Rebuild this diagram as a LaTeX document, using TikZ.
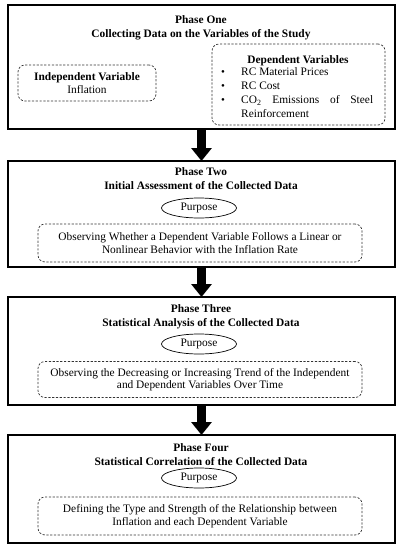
\documentclass[tikz,border=0pt]{standalone}
\usepackage{fontspec}
\setmainfont{Liberation Serif}
\usetikzlibrary{arrows.meta,shapes.geometric}
\tikzset{
  phasebox/.style={draw, line width=1.5pt, minimum width=387pt, anchor=north west, inner sep=0pt, outer sep=0pt},
  dashbox/.style={draw=black!80, line width=0.7pt, dash pattern=on 2.2pt off 1.6pt, rounded corners=7pt, inner sep=0pt, align=center},
  purp/.style={draw, ellipse, line width=0.7pt, minimum width=75pt, minimum height=20pt, inner sep=0pt},
  ttl/.style={align=center, font=\fontsize{11.4}{14}\selectfont\bfseries, inner sep=0pt},
  bigarrow/.style={line width=9pt, -{Triangle[width=20pt,length=13pt]}},
  txt/.style={inner sep=0pt, anchor=base west},
  bul/.style={inner sep=0pt, anchor=base west, font=\fontsize{11}{12}\selectfont}
}
\begin{document}
\begin{tikzpicture}[x=1pt,y=-1pt, font=\fontsize{11.4}{12.6}\selectfont]
\useasboundingbox (0,0) rectangle (402,550);
% boxes
\node[phasebox, minimum height=124pt] (p1) at (8,5) {};
\node[phasebox, minimum height=106pt] (p2) at (8,161) {};
\node[phasebox, minimum height=108pt] (p3) at (8,297) {};
\node[phasebox, minimum height=108pt] (p4) at (8,435) {};
% arrows
\draw[bigarrow] (p1.south) -- (p2.north);
\draw[bigarrow] (p2.south) -- (p3.north);
\draw[bigarrow] (p3.south) -- (p4.north);
% phase one
\node[ttl] (t1) at (201,27.5) {Phase One\\Collecting Data on the Variables of the Study};
\node[dashbox, minimum width=138pt, minimum height=36pt] (ind) at (87,83) {\textbf{Independent Variable}\\Inflation};
\node[dashbox, minimum width=173pt, minimum height=81pt] (dep) at (298.5,84.5) {};
\node[inner sep=0pt, font=\fontsize{11.4}{13}\selectfont\bfseries] (dh) at (298,61) {Dependent Variables};
\node[bul] (bu1) at (221,75.5) {\textbullet};
\node[txt] (i1) at (241,75.5) {RC Material Prices};
\node[bul] (bu2) at (221,89.5) {\textbullet};
\node[txt] (i2) at (241,89.5) {RC Cost};
\node[bul] (bu3) at (221,103.5) {\textbullet};
\node[txt] (i3) at (241,103.5) {\makebox[132pt][s]{CO\textsubscript{2} Emissions of Steel}};
\node[txt] (i4) at (241,117.5) {Reinforcement};
% phase two
\node[ttl] (t2) at (201,179) {Phase Two\\Initial Assessment of the Collected Data};
\node[purp] (e2) at (199,208) {Purpose};
\node[dashbox, minimum width=324pt, minimum height=38pt] (d2) at (200,243) {Observing Whether a Dependent Variable Follows a Linear or\\Nonlinear Behavior with the Inflation Rate};
% phase three
\node[ttl] (t3) at (201,316.5) {Phase Three\\Statistical Analysis of the Collected Data};
\node[purp] (e3) at (199,344) {Purpose};
\node[dashbox, minimum width=324pt, minimum height=36pt] (d3) at (200,379.5) {Observing the Decreasing or Increasing Trend of the Independent\\and Dependent Variables Over Time};
% phase four
\node[ttl] (t4) at (201,454.5) {Phase Four\\Statistical Correlation of the Collected Data};
\node[purp] (e4) at (199,478) {Purpose};
\node[dashbox, minimum width=324pt, minimum height=38pt] (d4) at (200,516) {Defining the Type and Strength of the Relationship between\\Inflation and each Dependent Variable};
\end{tikzpicture}
\end{document}
